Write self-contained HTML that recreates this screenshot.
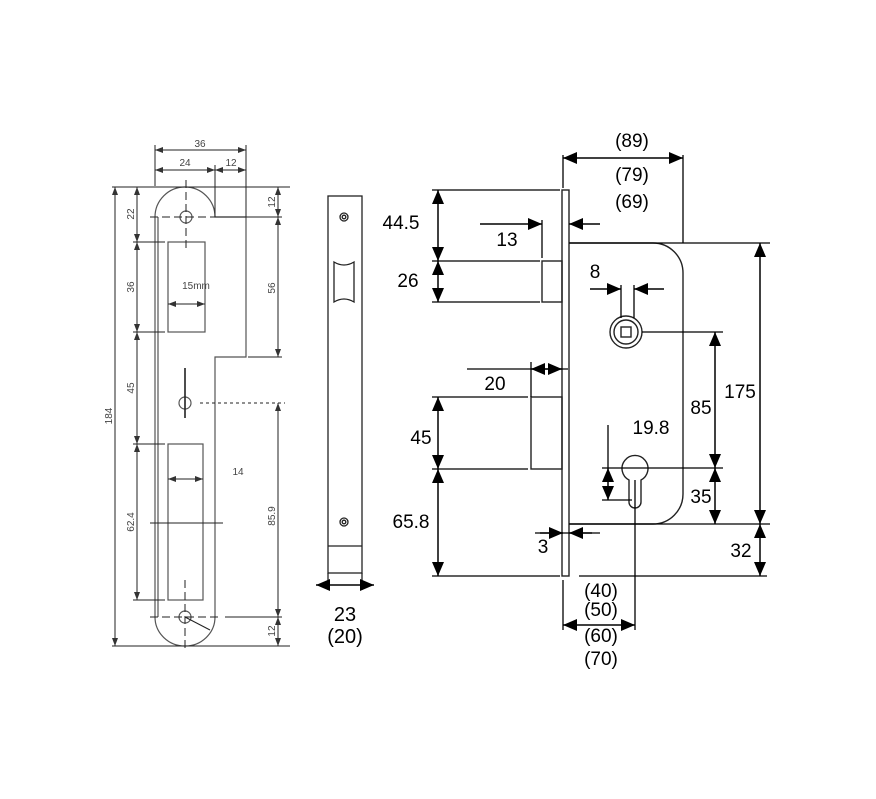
<!DOCTYPE html>
<html><head><style>body{margin:0;background:#fff}svg{display:block}</style></head><body>
<svg width="876" height="799" viewBox="0 0 876 799" xmlns="http://www.w3.org/2000/svg" font-family="Liberation Sans, sans-serif">
<defs>
<marker id="a" viewBox="0 0 14 12" refX="14" refY="6" markerWidth="14" markerHeight="12" markerUnits="userSpaceOnUse" orient="auto-start-reverse"><path d="M0,0L14,6L0,12z" fill="#000"/></marker>
<marker id="s" viewBox="0 0 8 6" refX="8" refY="3" markerWidth="8" markerHeight="6" markerUnits="userSpaceOnUse" orient="auto-start-reverse"><path d="M0,0L8,3L0,6z" fill="#333"/></marker>
</defs>
<g fill="none" stroke="#555" stroke-width="1.2">
<path d="M155,217 A30,30 0 0 1 215,217 L246,217 L246,357 L215,357 L215,617 A30,29 0 0 1 155,617 Z"/>
<line x1="158" y1="217" x2="158" y2="617"/>
<rect x="168" y="242" width="37" height="90"/>
<rect x="168" y="444" width="35" height="156"/>
<circle cx="186" cy="217" r="6"/><circle cx="185" cy="403" r="6"/><circle cx="185" cy="617" r="6"/>
</g>
<g stroke="#222" stroke-width="1" fill="none">
<line x1="186" y1="180" x2="186" y2="252" stroke-dasharray="8,4"/>
<line x1="150" y1="217" x2="225" y2="217" stroke-dasharray="8,4"/>
<line x1="185" y1="368" x2="185" y2="418" stroke-width="1.6"/>
<line x1="200" y1="403" x2="285" y2="403" stroke-dasharray="3,3"/>
<line x1="185" y1="580" x2="185" y2="650" stroke-dasharray="8,4"/>
<line x1="150" y1="617" x2="220" y2="617" stroke-dasharray="8,4"/>
<line x1="150" y1="523" x2="223" y2="523"/>
<line x1="185" y1="617" x2="210" y2="630"/>
<line x1="155" y1="145" x2="155" y2="186"/><line x1="246" y1="145" x2="246" y2="217"/><line x1="215" y1="165" x2="215" y2="217"/>
<line x1="112" y1="187" x2="290" y2="187"/><line x1="112" y1="646" x2="290" y2="646"/>
<line x1="133" y1="242" x2="165" y2="242"/><line x1="133" y1="332" x2="165" y2="332"/>
<line x1="133" y1="444" x2="165" y2="444"/><line x1="133" y1="600" x2="165" y2="600"/>
<line x1="216" y1="217" x2="282" y2="217"/><line x1="248" y1="357" x2="282" y2="357"/><line x1="225" y1="617" x2="282" y2="617"/>
</g>
<g stroke="#222" stroke-width="1" marker-start="url(#s)" marker-end="url(#s)">
<line x1="155" y1="150" x2="246" y2="150"/><line x1="155" y1="170" x2="215" y2="170"/><line x1="215" y1="170" x2="246" y2="170"/>
<line x1="115" y1="187" x2="115" y2="646"/>
<line x1="137" y1="187" x2="137" y2="242"/><line x1="137" y1="242" x2="137" y2="332"/><line x1="137" y1="332" x2="137" y2="444"/><line x1="137" y1="444" x2="137" y2="600"/>
<line x1="278" y1="187" x2="278" y2="217"/><line x1="278" y1="217" x2="278" y2="357"/><line x1="278" y1="403" x2="278" y2="617"/><line x1="278" y1="617" x2="278" y2="646"/>
<line x1="168" y1="304" x2="205" y2="304"/><line x1="168" y1="479" x2="203" y2="479"/>
</g>
<g fill="#444" font-size="10" text-anchor="middle">
<text x="200" y="147">36</text><text x="185" y="166">24</text><text x="231" y="166">12</text>
<text x="196" y="289">15mm</text><text x="238" y="475">14</text>
<text transform="translate(112,416) rotate(-90)">184</text>
<text transform="translate(134,214) rotate(-90)">22</text>
<text transform="translate(134,287) rotate(-90)">36</text>
<text transform="translate(134,388) rotate(-90)">45</text>
<text transform="translate(134,522) rotate(-90)">62.4</text>
<text transform="translate(275,202) rotate(-90)">12</text>
<text transform="translate(275,288) rotate(-90)">56</text>
<text transform="translate(275,516) rotate(-90)">85.9</text>
<text transform="translate(275,631) rotate(-90)">12</text>
</g>
<g fill="none" stroke="#222" stroke-width="1.3">
<rect x="328" y="196" width="34" height="377"/>
<line x1="328" y1="546" x2="362" y2="546"/>
<circle cx="344" cy="217" r="4"/><circle cx="344" cy="217" r="1.8"/>
<circle cx="344" cy="522" r="4"/><circle cx="344" cy="522" r="1.8"/>
<path d="M334,262 Q344,268 354,262 L354,302 Q344,296 334,302 Z"/>
<line x1="328" y1="573" x2="328" y2="590"/><line x1="362" y1="573" x2="362" y2="590"/>
</g>
<line x1="316" y1="585" x2="374" y2="585" stroke="#000" stroke-width="1.5" marker-start="url(#a)" marker-end="url(#a)"/>
<g font-size="20" text-anchor="middle" fill="#000"><text x="345" y="621">23</text><text x="345" y="643">(20)</text></g>
<g fill="none" stroke="#222" stroke-width="1.4">
<rect x="562" y="190" width="7" height="386"/>
<path d="M569,243 L653,243 A30,30 0 0 1 683,273 L683,494 A30,30 0 0 1 653,524 L569,524"/>
<rect x="542" y="261" width="20" height="41"/>
<rect x="531" y="397" width="31" height="72"/>
<circle cx="626" cy="332" r="16"/><circle cx="626" cy="332" r="12"/>
<rect x="621" y="327" width="10" height="10"/>
<path d="M629,480 A13,13 0 1 1 641,480 L641,502 A6,6 0 0 1 629,502 Z"/>
</g>
<g stroke="#000" stroke-width="1.3" fill="none">
<line x1="563" y1="155" x2="563" y2="188"/><line x1="683" y1="155" x2="683" y2="243"/>
<line x1="432" y1="190" x2="560" y2="190"/><line x1="432" y1="261" x2="540" y2="261"/><line x1="432" y1="302" x2="540" y2="302"/>
<line x1="542" y1="220" x2="542" y2="258"/>
<line x1="621" y1="285" x2="621" y2="318"/><line x1="634" y1="285" x2="634" y2="318"/>
<line x1="467" y1="369" x2="568" y2="369"/><line x1="531" y1="362" x2="531" y2="397"/>
<line x1="432" y1="397" x2="528" y2="397"/><line x1="432" y1="469" x2="528" y2="469"/>
<line x1="432" y1="576" x2="560" y2="576"/><line x1="579" y1="576" x2="767" y2="576"/>
<line x1="569" y1="243" x2="770" y2="243"/><line x1="569" y1="524" x2="770" y2="524"/>
<line x1="642" y1="332" x2="723" y2="332"/>
<line x1="602" y1="468" x2="723" y2="468"/><line x1="602" y1="500" x2="632" y2="500"/>
<line x1="608" y1="425" x2="608" y2="468"/>
<line x1="563" y1="580" x2="563" y2="630"/><line x1="635" y1="480" x2="635" y2="630"/>
<line x1="535" y1="533" x2="600" y2="533"/>
</g>
<g stroke="#000" stroke-width="1.5" marker-start="url(#a)" marker-end="url(#a)">
<line x1="563" y1="158" x2="683" y2="158"/>
<line x1="438" y1="190" x2="438" y2="261"/><line x1="438" y1="261" x2="438" y2="302"/>
<line x1="438" y1="397" x2="438" y2="469"/><line x1="438" y1="469" x2="438" y2="576"/>
<line x1="531" y1="369" x2="562" y2="369"/>
<line x1="608" y1="468" x2="608" y2="500"/>
<line x1="715" y1="332" x2="715" y2="468"/><line x1="715" y1="468" x2="715" y2="524"/>
<line x1="760" y1="243" x2="760" y2="524"/><line x1="760" y1="524" x2="760" y2="576"/>
<line x1="563" y1="625" x2="635" y2="625"/>
</g>
<g stroke="#000" stroke-width="1.5" marker-end="url(#a)">
<line x1="480" y1="224" x2="542" y2="224"/><line x1="600" y1="224" x2="569" y2="224"/>
<line x1="590" y1="289" x2="621" y2="289"/><line x1="664" y1="289" x2="634" y2="289"/>
<line x1="540" y1="533" x2="563" y2="533"/><line x1="592" y1="533" x2="569" y2="533"/>
</g>
<g font-size="19" fill="#000" text-anchor="middle">
<text x="632" y="147">(89)</text><text x="632" y="181">(79)</text><text x="632" y="208">(69)</text>
<text x="401" y="229">44.5</text><text x="507" y="246">13</text><text x="408" y="287">26</text>
<text x="595" y="278">8</text><text x="495" y="390">20</text><text x="421" y="444">45</text>
<text x="651" y="434">19.8</text><text x="701" y="414">85</text><text x="740" y="398">175</text>
<text x="701" y="503">35</text><text x="411" y="528">65.8</text><text x="543" y="553">3</text>
<text x="741" y="557">32</text>
<text x="601" y="597">(40)</text><text x="601" y="616">(50)</text><text x="601" y="642">(60)</text><text x="601" y="665">(70)</text>
</g>
</svg>
</body></html>
